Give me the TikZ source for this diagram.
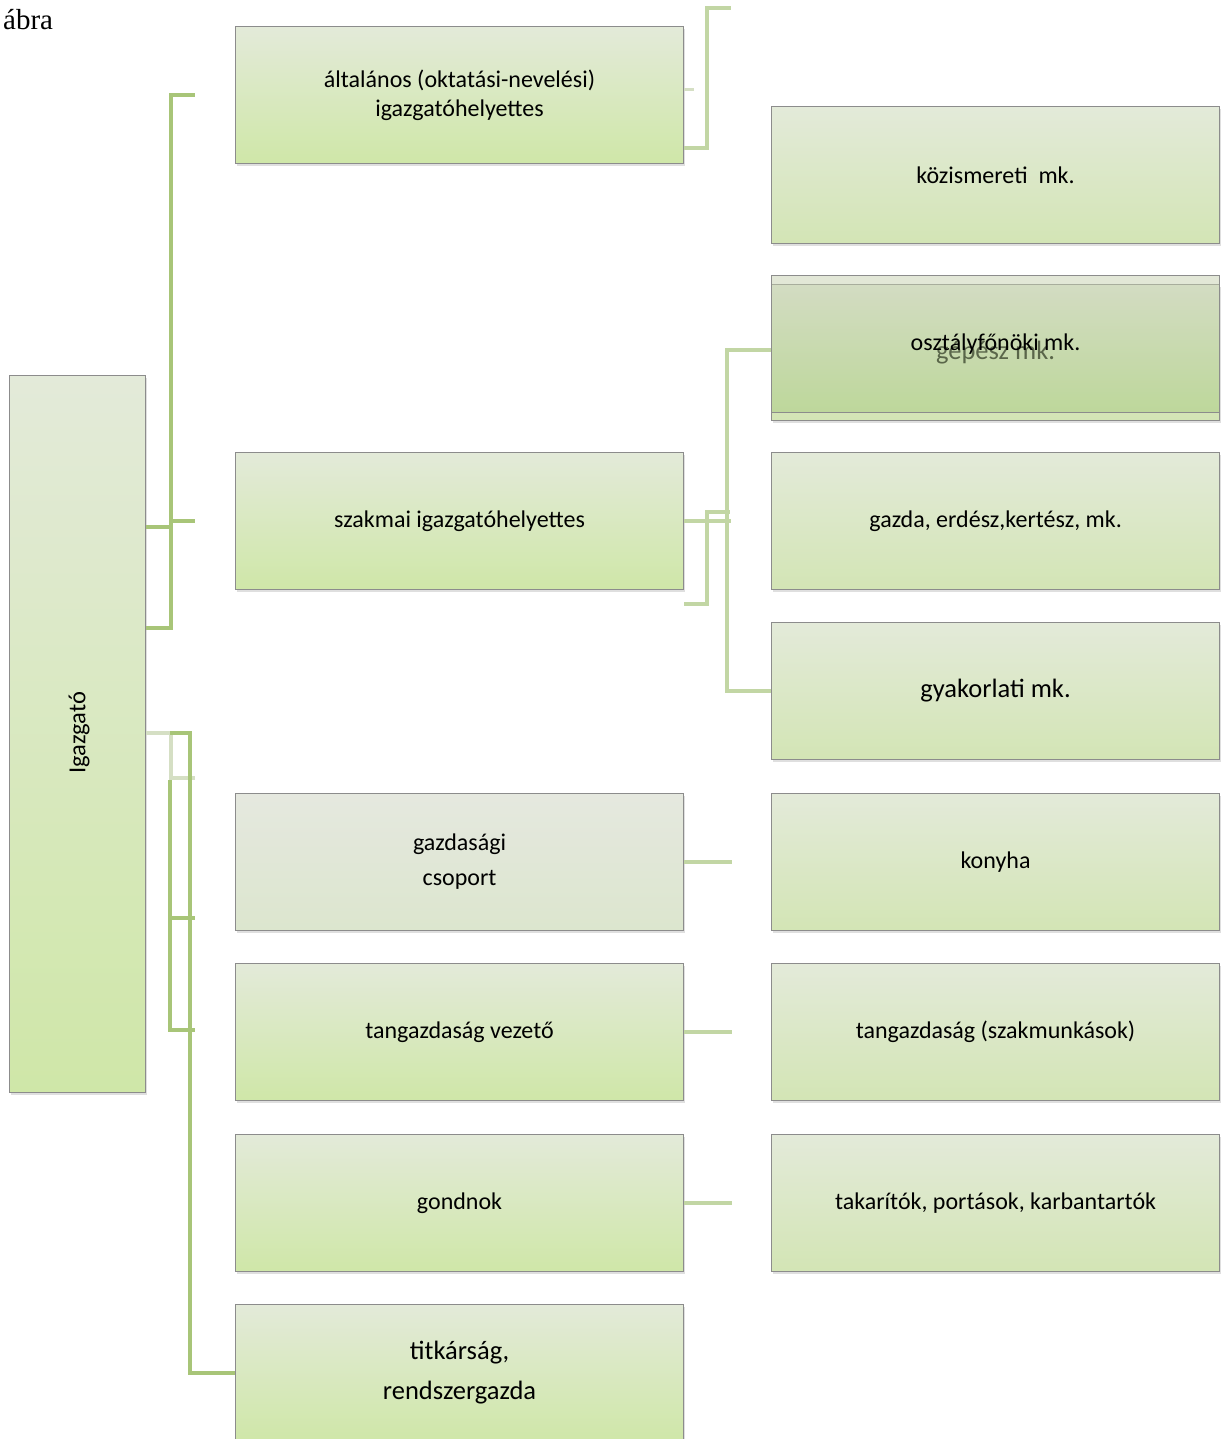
\documentclass[tikz,border=0pt]{standalone}
\usepackage{fontspec}
\setmainfont{Carlito}
\newfontfamily\abrafont{Liberation Serif}
\usetikzlibrary{positioning,calc,shadows}

\definecolor{lineGreen}{RGB}{168,197,120}
\definecolor{lineMid}{RGB}{194,214,164}
\definecolor{lineLight}{RGB}{213,223,196}
\definecolor{boxEdge}{RGB}{140,140,140}
\definecolor{boxTop}{RGB}{227,234,217}
\definecolor{boxBot}{RGB}{207,231,168}
\definecolor{boxBotR}{RGB}{211,229,181}
\definecolor{grayTop}{RGB}{229,232,223}
\definecolor{grayBot}{RGB}{220,230,206}
\definecolor{darkTop}{RGB}{198,207,176}
\definecolor{darkBot}{RGB}{168,203,128}

\begin{document}
\begin{tikzpicture}[x=1pt,y=-1pt,
  boxbase/.style={draw=boxEdge,line width=1.1pt,top color=boxTop,bottom color=boxBot,
    minimum width=448pt,minimum height=137pt,inner sep=0pt,anchor=north west,
    align=center,font=\fontsize{24}{29}\selectfont},
  box/.style={boxbase,drop shadow={opacity=0.25,shadow xshift=1.5pt,shadow yshift=-2.5pt}},
  boxR/.style={box,bottom color=boxBotR},
  gline/.style={lineGreen,line width=4pt},
  mline/.style={lineMid,line width=4pt},
  lline/.style={lineLight,line width=4pt}]

\useasboundingbox (0,0) rectangle (1220,1439);

\node[anchor=west,font=\abrafont\fontsize{29}{32}\selectfont,inner sep=0pt] (abra) at (3,20) {ábra};

% left column
\node[box,minimum width=136pt,minimum height=717pt] (ig) at (9,375) {};
\node[rotate=90,font=\fontsize{24.5}{28}\selectfont] (igtext) at (79,733) {Igazgató};

% middle column
\node[box] (alt) at (235,26) {általános (oktatási-nevelési)\\igazgatóhelyettes};
\node[box] (szak) at (235,452) {szakmai igazgatóhelyettes};
\node[box,top color=grayTop,bottom color=grayBot] (gazd) at (235,793) {gazdasági\\[6pt]csoport};
\node[box] (tang) at (235,963) {tangazdaság vezető};
\node[box] (gond) at (235,1134) {gondnok};
\node[box,font=\fontsize{26.5}{40}\selectfont] (titk) at (235,1304) {titkárság,\\ rendszergazda};

% right column
\node[boxR] (kozism) at (771,106) {közismereti\ \ mk.};
\node[boxR,minimum height=136pt,font=\fontsize{26.5}{30}\selectfont] (gepesz) at (771,284) {gépész mk.};
\node[boxbase,top color=darkTop,bottom color=darkBot,fill opacity=0.5,text opacity=1] (osztf) at (771,275) {osztályfőnöki mk.};
\node[boxR] (gazda) at (771,452) {gazda, erdész,kertész, mk.};
\node[boxR,font=\fontsize{26.5}{30}\selectfont] (gyak) at (771,622) {gyakorlati mk.};
\node[boxR] (konyha) at (771,793) {konyha};
\node[boxR] (tangsz) at (771,963) {tangazdaság (szakmunkások)};
\node[boxR] (takar) at (771,1134) {takarítók, portások, karbantartók};

% free ends
\coordinate (a1) at (195,95);
\coordinate (s1) at (195,521);
\coordinate (g1) at (195,778);
\coordinate (t1) at (195,1030);
\coordinate (r1) at (731,8);
\coordinate (r2) at (730,512);

% Igazgato, upper branch
\draw[gline] (ig.east |- 0,628) -- ++(25,0) |- (a1);
\draw[gline] (ig.east |- 0,527) -- ++(25,0);
\draw[gline] (170,521) -- (s1);

% Igazgato, lower branch
\draw[lline] (ig.east |- 0,733) -- ++(25,0) |- (g1);
\draw[gline] (170,733) -- (190,733) |- (titk.west);
\draw[gline] (170,780) |- (t1);
\draw[gline] (170,918) -- (195,918);

% right side
\draw[mline] (alt.east |- 0,148) -| (707,8) -- (r1);
\draw[lline,line width=3pt] (alt.east |- 0,90) -- ++(10,0);
\draw[mline] (szak.east) -- ++(47,0);
\draw[mline] (szak.east |- 0,604) -| (707,512) -- (r2);
\draw[mline] (osztf.west |- 0,350) -- (727,350) |- (gyak.west);
\foreach \n in {gazd,tang,gond}
  \draw[mline] (\n.east) -- ++(48,0);

\end{tikzpicture}
\end{document}
